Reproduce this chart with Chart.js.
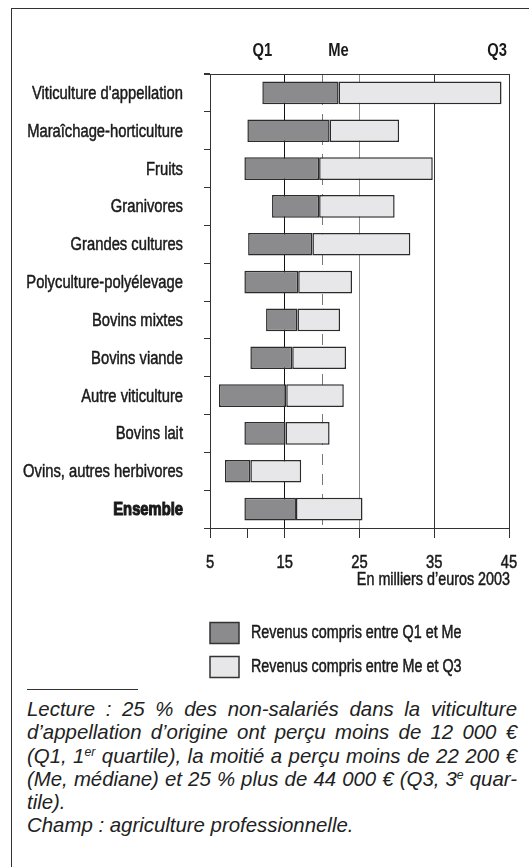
<!DOCTYPE html>
<html lang="fr">
<head>
<meta charset="utf-8">
<script src="https://cdn.jsdelivr.net/npm/chart.js@4.4.1/dist/chart.umd.min.js"></script>
<style>
  body { margin: 0; background: #fff; width: 529px; height: 867px; overflow: hidden; position: relative; }
  #frame { position: absolute; left: 11px; top: 8px; width: 530px; height: 880px;
           border-left: 1px solid #333; border-top: 1px solid #333; }
  #chart { position: absolute; left: 0; top: 0; }
  #rule { position: absolute; left: 27px; top: 689px; width: 111px; border-top: 1px solid #333; }
  #notes { position: absolute; left: 27px; top: 698px; width: 490px; color: #222;
           font: italic 20.4px "Liberation Sans", Arial, sans-serif; line-height: 23.3px; }
  #notes .j { text-align: justify; text-align-last: justify; }
  #notes sup { font-size: 0.6em; vertical-align: 0.55em; line-height: 0; }
</style>
</head>
<body>
<div id="frame"></div>
<canvas id="chart" width="529" height="688"></canvas>
<div id="rule"></div>
<div id="notes">
  <div class="j">Lecture : 25 % des non-salariés dans la viticulture</div>
  <div class="j">d’appellation d’origine ont perçu moins de 12 000 €</div>
  <div class="j">(Q1, 1<sup>er</sup> quartile), la moitié a perçu moins de 22 200 €</div>
  <div class="j">(Me, médiane) et 25 % plus de 44 000 € (Q3, 3<sup>e</sup> quar-</div>
  <div>tile).</div>
  <div>Champ : agriculture professionnelle.</div>
</div>

<script>
/* ---------------- DATA (milliers d'euros 2003) ---------------- */
const categories = [
    "Viticulture d'appellation", "Maraîchage-horticulture", "Fruits", "Granivores",
    "Grandes cultures", "Polyculture-polyélevage", "Bovins mixtes", "Bovins viande",
    "Autre viticulture", "Bovins lait", "Ovins, autres herbivores", "Ensemble"
];
const q1 = [12.0, 10.0, 9.6, 13.3, 10.1, 9.6, 12.5, 10.4, 6.2, 9.6, 7.0, 9.6];
const me = [22.2, 21.0, 19.6, 19.6, 18.7, 16.8, 16.7, 16.0, 15.2, 15.1, 10.4, 16.5];
const q3 = [44.0, 30.3, 34.8, 29.7, 31.8, 24.0, 22.4, 23.2, 22.9, 21.0, 17.2, 25.4];

const seriesLabels = ["Revenus compris entre Q1 et Me", "Revenus compris entre Me et Q3"];
const headerLabels = ["Q1", "Me", "Q3"];
const xTicks      = [5, 10, 15, 25, 35, 45];
const xTickLabels = ["5", "", "15", "25", "35", "45"];
const dashedAt    = [20];
const xTitle      = "En milliers d’euros 2003";
const boldCategories = ["Ensemble"];
/* -------------------------------------------------------------- */

const FONT = '"Liberation Sans", Arial, sans-serif';
const SQUEEZE = 0.82;   // no narrow font installed: compress Liberation Sans horizontally
const INK = "#1a1a1a";
const DARK = "#8b8b8e";
const LIGHT = "#e7e7e9";

// grid colour per x tick (10 has only a tick mark, 25 is lighter)
function xGridColor(ctx) {
    const v = ctx.tick && ctx.tick.value;
    if (v === 10) return "rgba(0,0,0,0)";
    if (v === 25) return "#8a8a8a";
    if (v === 15) return "#111";
    return "#333";
}

// condensed text helper; a thin outline thickens the strokes like the original
function narrowText(ctx, text, x, y, align, font, outline = 0.5) {
    ctx.save();
    ctx.font = font;
    ctx.fillStyle = INK;
    ctx.strokeStyle = INK;
    ctx.lineWidth = outline;
    ctx.lineJoin = "round";
    ctx.textAlign = align;
    ctx.textBaseline = "middle";
    ctx.translate(x, y);
    ctx.scale(SQUEEZE, 1);
    ctx.fillText(text, 0, 0);
    if (outline > 0) ctx.strokeText(text, 0, 0);
    ctx.restore();
}

/* Extra drawing: dashed median line, labels, header, axis title, legend */
const decor = {
    id: "decor",
    beforeDatasetsDraw(chart) {
        const { ctx, chartArea: a, scales: { x } } = chart;
        ctx.save();
        ctx.strokeStyle = "#777";
        ctx.lineWidth = 1;
        ctx.setLineDash([11, 9]);
        dashedAt.forEach(v => {
            const px = Math.round(x.getPixelForValue(v)) + 0.5;
            ctx.beginPath();
            ctx.moveTo(px, a.top);
            ctx.lineTo(px, a.bottom);
            ctx.stroke();
        });
        ctx.restore();
    },
    afterDraw(chart) {
        const { ctx, chartArea: a, scales: { x, y } } = chart;

        // top border of plot
        ctx.save();
        ctx.strokeStyle = "#333";
        ctx.lineWidth = 1;
        ctx.beginPath();
        ctx.moveTo(a.left - 6, a.top + 0.5);
        ctx.lineTo(a.right, a.top + 0.5);
        ctx.stroke();
        ctx.restore();

        // category labels
        categories.forEach((c, i) => {
            const bold = boldCategories.includes(c);
            narrowText(ctx, c, a.left - 27, y.getPixelForValue(i) + 1, "right",
                (bold ? "bold " : "") + "18px " + FONT, bold ? 1.1 : 0.5);
        });

        // x tick labels
        xTicks.forEach((v, i) => {
            if (xTickLabels[i]) narrowText(ctx, xTickLabels[i], x.getPixelForValue(v), 563, "center", "18px " + FONT);
        });

        // Q1 / Me / Q3 above first row
        const firstRow = [q1[0], me[0], q3[0]];
        const hFont = "bold 18px " + FONT;
        ctx.font = hFont;
        headerLabels.forEach((t, i) => {
            const w = ctx.measureText(t).width * SQUEEZE;
            const px = Math.min(x.getPixelForValue(firstRow[i]), a.right - 2 - w / 2);
            narrowText(ctx, t, px, 51, "center", hFont, 0);
        });

        // axis title
        narrowText(ctx, xTitle, a.right + 1, 580, "right", "17.5px " + FONT);

        // legend
        chart.data.datasets.forEach((ds, i) => {
            const cy = 633 + i * 34;
            ctx.save();
            ctx.fillStyle = ds.backgroundColor;
            ctx.fillRect(a.left, cy - 10.5, 29, 21);
            ctx.strokeStyle = "#333";
            ctx.lineWidth = 1.5;
            ctx.strokeRect(a.left, cy - 10.5, 29, 21);
            ctx.restore();
            narrowText(ctx, ds.label, a.left + 41, cy, "left", "17.5px " + FONT);
        });
    }
};

const barCommon = {
    borderColor: "#2b2b2b",
    borderWidth: 1.5,
    borderSkipped: false,
    grouped: false,
    barPercentage: 0.6,
    categoryPercentage: 1
};

new Chart(document.getElementById("chart").getContext("2d"), {
    type: "bar",
    data: {
        labels: categories,
        datasets: [
            { ...barCommon, label: seriesLabels[0], backgroundColor: DARK,
              data: categories.map((c, i) => [q1[i], me[i]]) },
            { ...barCommon, label: seriesLabels[1], backgroundColor: LIGHT,
              data: categories.map((c, i) => [me[i], q3[i]]) }
        ]
    },
    options: {
        indexAxis: "y",
        responsive: false,
        animation: false,
        layout: { padding: { top: 74, right: 20, bottom: 120, left: 0 } },
        plugins: { legend: { display: false }, tooltip: { enabled: false } },
        scales: {
            x: {
                type: "linear",
                position: "bottom",
                min: 5,
                max: 45,
                afterBuildTicks: s => { s.ticks = xTicks.map(v => ({ value: v })); },
                afterFit: s => { s.height = 40; },
                ticks: { display: false },
                grid: { color: xGridColor, lineWidth: 1, tickLength: 10, tickColor: "#333" },
                border: { display: true, color: "#333", width: 1 }
            },
            y: {
                type: "category",
                afterFit: s => { s.width = 210; },
                ticks: { display: false },
                grid: { drawOnChartArea: false, offset: true, tickLength: 6, tickColor: "#333" },
                border: { display: true, color: "#333", width: 1 }
            }
        }
    },
    plugins: [decor]
});
</script>
</body>
</html>
